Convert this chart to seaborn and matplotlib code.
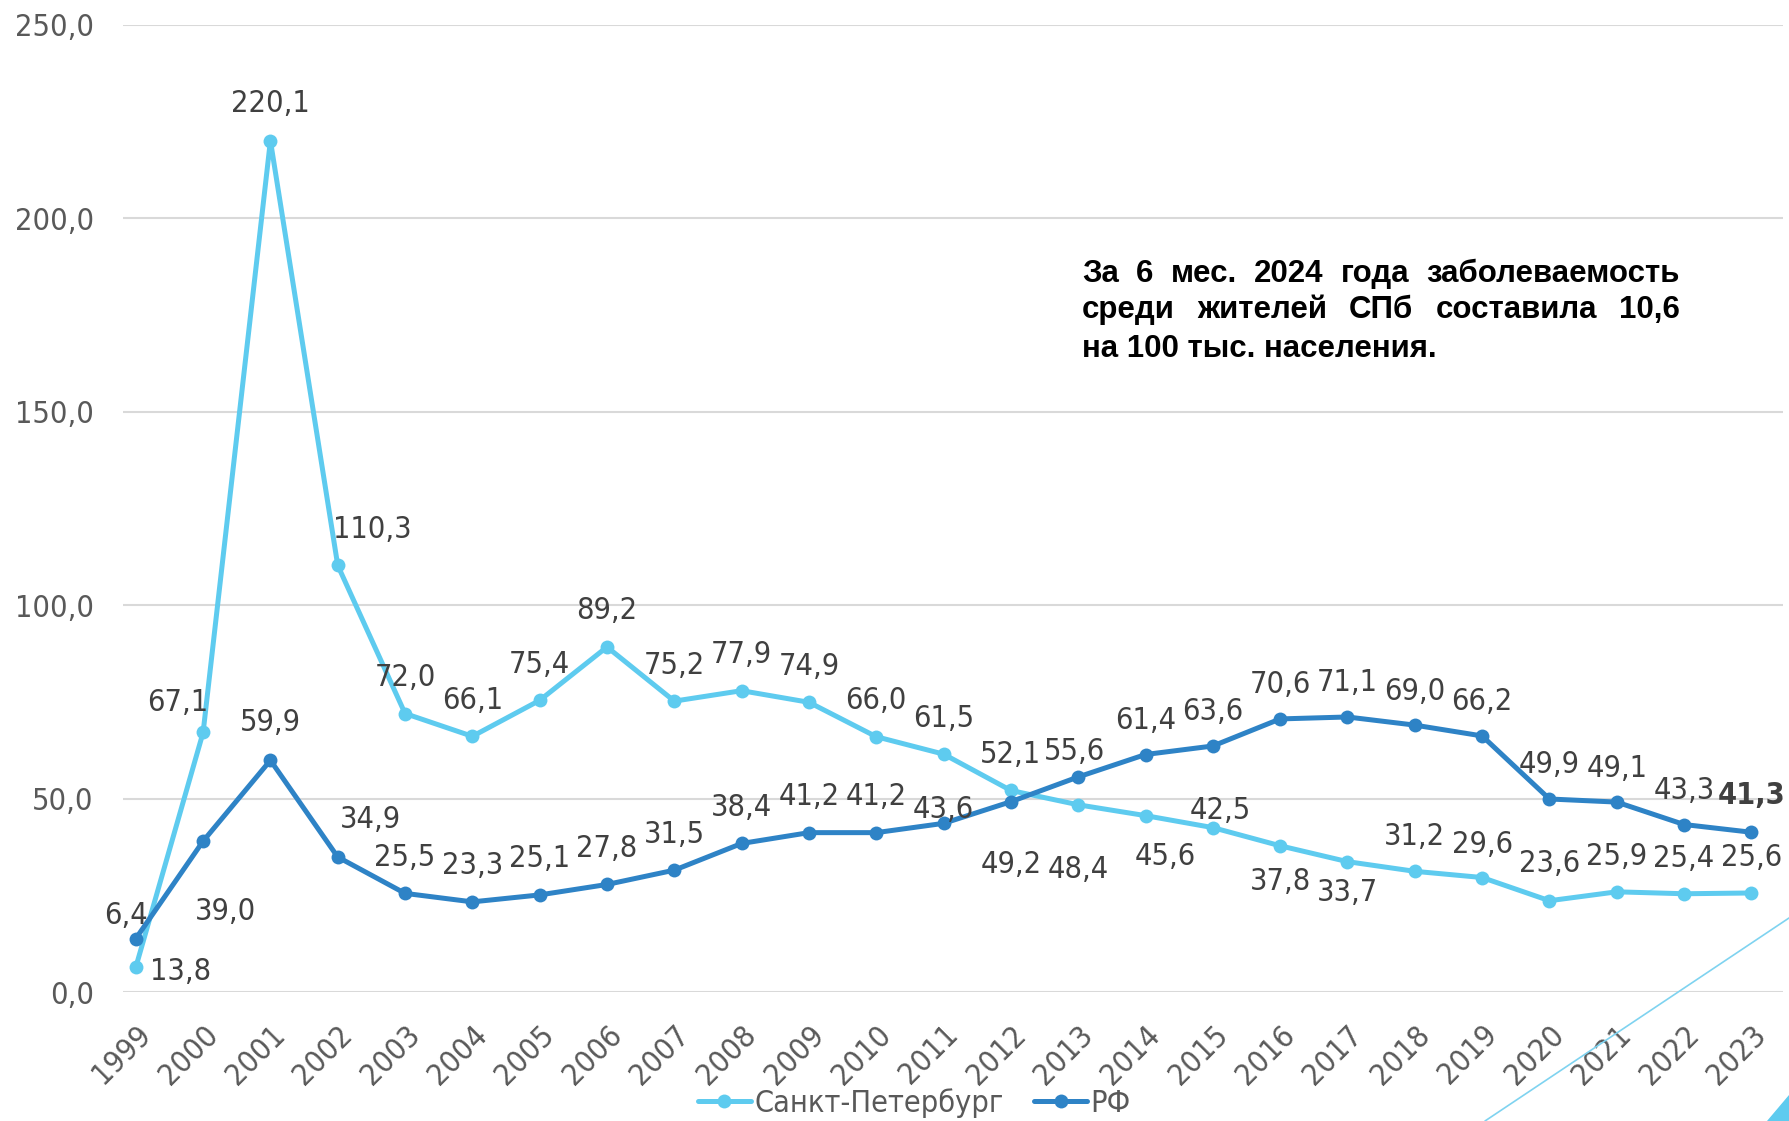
import pandas as pd
import matplotlib.pyplot as plt
import seaborn as sns
from matplotlib.lines import Line2D
from matplotlib.patches import Polygon

years = list(range(1999, 2024))
spb = [6.4, 67.1, 220.1, 110.3, 72.0, 66.1, 75.4, 89.2, 75.2, 77.9, 74.9, 66.0, 61.5,
       52.1, 48.4, 45.6, 42.5, 37.8, 33.7, 31.2, 29.6, 23.6, 25.9, 25.4, 25.6]
rf = [13.8, 39.0, 59.9, 34.9, 25.5, 23.3, 25.1, 27.8, 31.5, 38.4, 41.2, 41.2, 43.6,
      49.2, 55.6, 61.4, 63.6, 70.6, 71.1, 69.0, 66.2, 49.9, 49.1, 43.3, 41.3]
series_names = ["Санкт-Петербург", "РФ"]
note_lines = ["За 6 мес. 2024 года заболеваемость",
              "среди жителей СПб составила 10,6",
              "на 100 тыс. населения."]

# label offsets in pixels (dx, dy up), hand-placed like in the original slide
spb_off = [(-10, 52), (-25, 30), (0, 37), (35, 36)] + [(0, 36)] * 10 + \
          [(0, -65), (20, -41), (7, 17), (0, -36), (0, -31), (0, 35), (0, 33), (0, 37),
           (0, 35), (0, 35), (0, 35)]
rf_off = [(45, -33), (22, -70), (0, 38), (33, 38)] + [(0, 36)] * 8 + \
         [(0, 14), (0, -63), (-4, 25)] + [(0, 34)] * 8 + [(0, 34), (0, 37)]

colors = {"Санкт-Петербург": "#5ECBEF", "РФ": "#2E83C6"}
W, H = 1789, 1121
FS = 22

sns.set_style("white")
plt.rcParams["font.family"] = ["DejaVu Sans"]

df = pd.DataFrame({"year": years * 2, "value": spb + rf,
                   "series": [series_names[0]] * len(years) + [series_names[1]] * len(years)})

fig = plt.figure(figsize=(W / 100, H / 100), dpi=100)
ax = fig.add_axes([123 / W, 1 - 992 / H, (1783 - 123) / W, (992 - 25) / H])

sns.lineplot(data=df, x="year", y="value", hue="series", palette=colors, marker="o",
             markersize=10, markeredgewidth=0, linewidth=3.6, ax=ax, legend=False,
             hue_order=series_names)

ax.set_xlim(1999 - 0.19, 1999 + 24.47)
ax.set_ylim(0, 250)
ax.set_yticks([0, 50, 100, 150, 200, 250])
ax.yaxis.set_major_formatter(plt.FuncFormatter(lambda v, p: f"{v:.1f}".replace(".", ",")))
ax.set_xticks(years)
ax.set_xticklabels([str(y) for y in years], rotation=45, ha="right", va="top",
                   rotation_mode="anchor")
ax.tick_params(axis="both", length=0, labelsize=FS, labelcolor="#595959")
ax.tick_params(axis="y", pad=21)
ax.tick_params(axis="x", pad=20)
for lab in ax.get_xticklabels() + ax.get_yticklabels():
    lab.set_fontstretch("condensed")
ax.grid(axis="y", color="#D9D9D9", linewidth=1.5)
ax.set_axisbelow(True)
for s in ax.spines.values():
    s.set_visible(False)
ax.set_xlabel("")
ax.set_ylabel("")

for vals, offs in [(spb, spb_off), (rf, rf_off)]:
    for i, (yr, v) in enumerate(zip(years, vals)):
        bold = vals is rf and yr == 2023
        ax.annotate(f"{v:.1f}".replace(".", ","), (yr, v), xytext=offs[i],
                    textcoords="offset pixels", ha="center", va="center",
                    fontsize=FS, color="#404040", fontstretch="condensed",
                    fontweight="bold" if bold else "normal")

handles = [Line2D([], [], color=colors[n], marker="o", markersize=10, linewidth=3.6,
                  markeredgewidth=0) for n in series_names]
leg = fig.legend(handles, series_names, loc="center", bbox_to_anchor=(0.511, 1 - 1103 / H),
                 ncol=2, frameon=False, fontsize=FS, handlelength=1.75, columnspacing=1.0,
                 handletextpad=0.1)
for t in leg.get_texts():
    t.set_color("#595959")
    t.set_fontstretch("condensed")

# note text, justified by hand
fig.canvas.draw()
r = fig.canvas.get_renderer()
left, right = 1082, 1680
line_y = [274, 310, 349]
for i, line in enumerate(note_lines):
    y = 1 - line_y[i] / H
    kw = dict(fontsize=22.5, fontweight="bold", color="black", va="center",
              family=["Liberation Sans", "DejaVu Sans"])
    if i < len(note_lines) - 1:
        words = line.split()
        texts = [fig.text(0, y, w, **kw) for w in words]
        widths = [t.get_window_extent(r).width for t in texts]
        gap = (right - left - sum(widths)) / (len(words) - 1)
        x = left
        for t, w in zip(texts, widths):
            t.set_x(x / W)
            x += w + gap
    else:
        fig.text(left / W, y, line, **kw)

# slide decorations in the corner
fig.add_artist(Line2D([1485 / W, 1.0], [0, 1 - 918 / H], transform=fig.transFigure,
                      color="#7FD3F0", linewidth=1.2))
fig.add_artist(Polygon([(1767 / W, 0), (1, 0), (1, 1 - 1095 / H)], closed=True,
                       transform=fig.transFigure, color="#5ECBEF"))

plt.savefig("out.png", dpi=100)
plt.close()
